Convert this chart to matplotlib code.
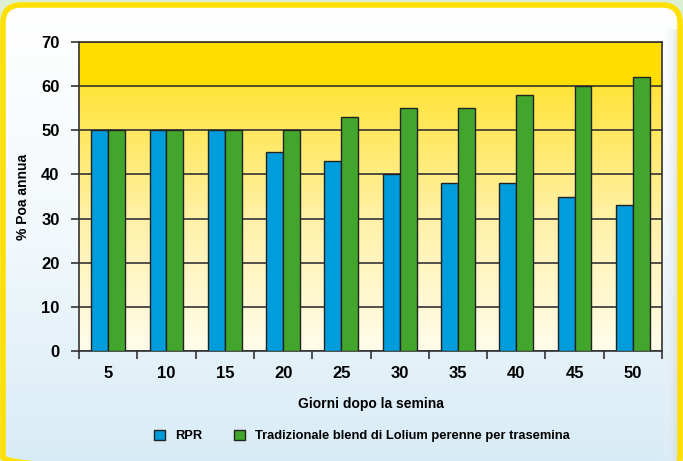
import numpy as np
import matplotlib as mpl
import matplotlib.pyplot as plt
from matplotlib.patches import FancyBboxPatch, Patch
from matplotlib.colors import LinearSegmentedColormap

# 데이터
giorni = ['5', '10', '15', '20', '25', '30', '35', '40', '45', '50']
rpr = [50, 50, 50, 45, 43, 40, 38, 38, 35, 33]
tradizionale = [50, 50, 50, 50, 53, 55, 55, 58, 60, 62]

mpl.rcParams['font.family'] = ['Liberation Sans', 'DejaVu Sans']
mpl.rcParams['font.weight'] = 'bold'

fig = plt.figure(figsize=(6.83, 4.61), dpi=100)
fig.patch.set_facecolor('#DDEFD2')

# 배경 패널 (픽셀 좌표)
bg = fig.add_axes([0, 0, 1, 1])
bg.set_xlim(0, 683)
bg.set_ylim(461, 0)
bg.axis('off')
panel = FancyBboxPatch((3, 5), 677, 470, boxstyle='round,pad=0,rounding_size=18',
                       facecolor='none', edgecolor='#FFE000', linewidth=4, zorder=3)
bg.add_patch(panel)
cmap_bg = LinearSegmentedColormap.from_list('bg', ['#FFFFFF', '#F2F8FB', '#D6EBF6'])
grad = np.linspace(0, 1, 256).reshape(-1, 1)
im = bg.imshow(grad, cmap=cmap_bg, extent=(3, 680, 475, 5), aspect='auto', zorder=1)
im.set_clip_path(panel)
# 오른쪽 그림자
shadow = LinearSegmentedColormap.from_list('sh', ['#FFFFFF00', '#C8CDD2'])
im2 = bg.imshow(np.linspace(0, 1, 64).reshape(1, -1), cmap=shadow,
                extent=(662, 682, 476, 30), aspect='auto', zorder=2, alpha=0.8)
im2.set_clip_path(panel)

# 차트
ax = fig.add_axes([0.1157, 0.2386, 0.8536, 0.6703])
ax.set_xlim(-0.5, len(giorni) - 0.5)
ax.set_ylim(0, 70)

# 플롯 영역 그라데이션
cmap_plot = LinearSegmentedColormap.from_list('plot', ['#FFFCEC', '#FFF1A8', '#FFE43A'])
ax.imshow(np.linspace(0, 1, 256).reshape(-1, 1), cmap=cmap_plot, origin='lower',
          extent=(-0.5, len(giorni) - 0.5, 0, 60), aspect='auto', zorder=0)
ax.axhspan(60, 70, color='#FFDE00', zorder=0)

x = np.arange(len(giorni))
w = 0.29
ax.bar(x - w / 2, rpr, width=w, color='#009DDC', edgecolor='#222222', linewidth=1, zorder=3)
ax.bar(x + w / 2, tradizionale, width=w, color='#43A62C', edgecolor='#222222', linewidth=1, zorder=3)

ax.set_yticks(range(0, 71, 10))
ax.grid(axis='y', color='#333333', linewidth=1.2, zorder=1)
ax.set_axisbelow(True)
ax.set_xticks(x)
ax.set_xticklabels(giorni)
ax.set_xticks(np.arange(-0.5, len(giorni), 1), minor=True)
ax.tick_params(axis='x', which='major', length=0, pad=11, labelsize=12)
ax.tick_params(axis='x', which='minor', length=6, width=1.2, color='#333333')
ax.tick_params(axis='y', length=6, width=1.2, color='#333333', labelsize=12, pad=8)
for s in ax.spines.values():
    s.set_color('#333333')
    s.set_linewidth(1.2)

ax.set_xlabel('Giorni dopo la semina', fontsize=10, fontweight='bold', labelpad=11)
ax.set_ylabel('% Poa annua', fontsize=10, fontweight='bold', labelpad=8)

handles = [Patch(facecolor='#009DDC', edgecolor='#222222'),
           Patch(facecolor='#43A62C', edgecolor='#222222')]
fig.legend(handles, ['RPR', 'Tradizionale blend di Lolium perenne per trasemina'],
           loc='center', bbox_to_anchor=(0.53, 0.054), ncol=2, frameon=False,
           fontsize=9.3, handlelength=0.8, handleheight=0.8, columnspacing=2.5,
           handletextpad=0.8)

plt.savefig('out.png', dpi=100, facecolor=fig.get_facecolor())
